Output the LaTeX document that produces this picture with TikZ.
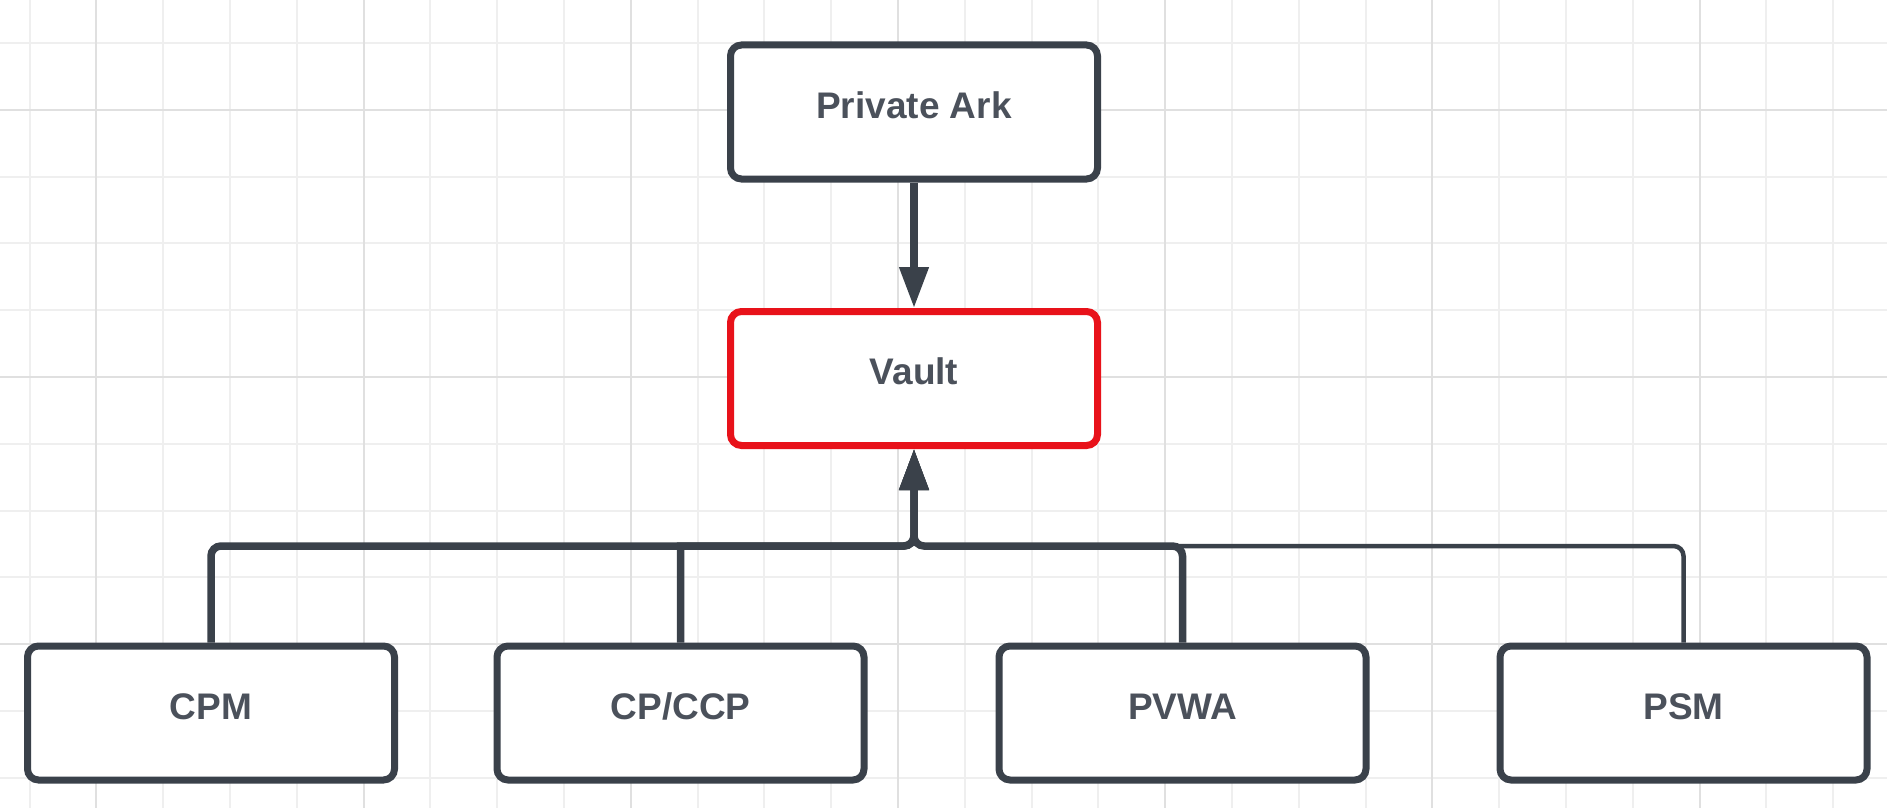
\documentclass[tikz,border=0pt]{standalone}
\usepackage{fontspec}
\setmainfont{Liberation Sans}
\usetikzlibrary{arrows.meta}
\definecolor{ink}{HTML}{3A414A}
\definecolor{alarm}{HTML}{E8121A}
\definecolor{txt}{HTML}{4B515B}
\definecolor{gridminor}{HTML}{EFEFEF}
\definecolor{gridmajor}{HTML}{E0E0E0}
\begin{document}
\begin{tikzpicture}[x=1pt,y=-1pt,
  box/.style={draw=ink, line width=7pt, fill=white, rounded corners=11pt,
    minimum width=367pt, minimum height=134pt, inner sep=0pt, text=txt,
    font=\fontsize{37}{40}\selectfont\bfseries, text height=26.5pt, text depth=14.5pt},
  vaultbox/.style={box, draw=alarm},
  wire/.style={draw=ink, line width=7.5pt, rounded corners=10pt,
    -{Triangle[length=41pt,width=28pt]}},
  thinwire/.style={wire, line width=4.5pt},
  gminor/.style={draw=gridminor, line width=2pt},
  gmajor/.style={draw=gridmajor, line width=2pt}]
\fill[white] (0,0) rectangle (1887,808);
\useasboundingbox (0,0) rectangle (1887,808);
% grid
\foreach \i in {0,...,27}{
  \pgfmathsetmacro{\gx}{29.6+66.8*\i}
  \draw[gminor] (\gx,0) -- (\gx,808);
}
\foreach \k in {0,...,11}{
  \pgfmathsetmacro{\gy}{43+66.8*\k}
  \draw[gminor] (0,\gy) -- (1887,\gy);
}
\foreach \i in {1,5,9,13,17,21,25}{
  \pgfmathsetmacro{\gx}{29.6+66.8*\i}
  \draw[gmajor] (\gx,0) -- (\gx,808);
}
\foreach \k in {1,5,9}{
  \pgfmathsetmacro{\gy}{43+66.8*\k}
  \draw[gmajor] (0,\gy) -- (1887,\gy);
}
% nodes
\node[box] (ark) at (914,112) {Private Ark};
\node[vaultbox] (vault) at (914,378.5) {Vault};
\node[box] (cpm) at (211,713) {CPM};
\node[box] (ccp) at (680.5,713) {CP/CCP};
\node[box] (pvwa) at (1182.5,713) {PVWA};
\node[box] (psm) at (1683.5,713) {PSM};
\coordinate (busc) at (914,546);
% connectors
\draw[wire] (ark) -- (vault);
\draw[thinwire] (psm.north) |- (busc) -- (vault.south);
\draw[wire] (pvwa.north) |- (busc) -- (vault.south);
\draw[wire, sharp corners] (ccp.north) -- (ccp.north |- busc) [rounded corners=10pt] -- (busc) -- (vault.south);
\draw[wire] (cpm.north) |- (busc) -- (vault.south);
\end{tikzpicture}
\end{document}
